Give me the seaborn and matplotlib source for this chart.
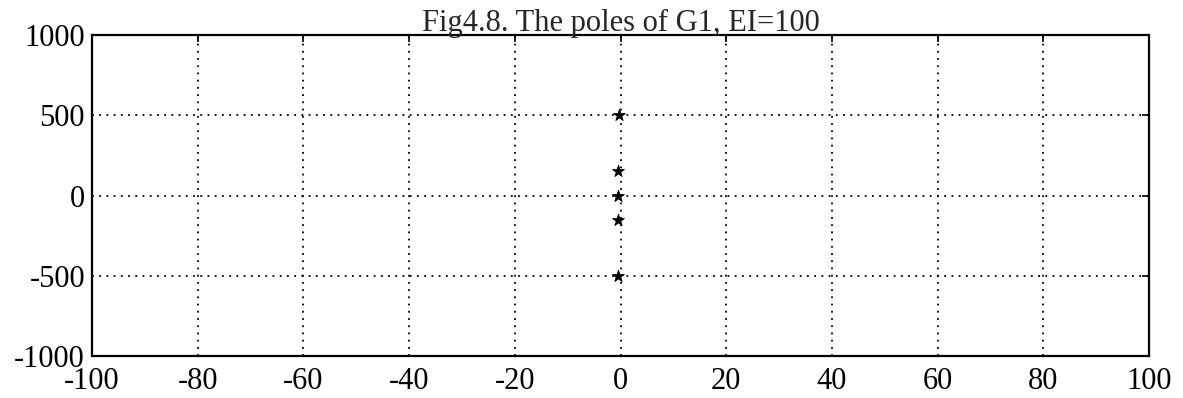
import matplotlib
matplotlib.use("Agg")
import matplotlib.pyplot as plt
import seaborn as sns
import pandas as pd

# Pole locations of G1 (real part, imaginary part), EI=100
pole_re = [-0.3, -0.4, -0.4, -0.4, -0.4]
pole_im = [500, 155, 0, -150, -500]

x_ticks = [-100, -80, -60, -40, -20, 0, 20, 40, 60, 80, 100]
y_ticks = [-1000, -500, 0, 500, 1000]

sns.set_theme(style="white")
plt.rcParams["font.family"] = ["Liberation Serif", "DejaVu Serif"]

df = pd.DataFrame({"re": pole_re, "im": pole_im})

fig = plt.figure(figsize=(11.83, 3.98), dpi=100)
ax = fig.add_axes([0.0778, 0.1055, 0.8935, 0.8065])

sns.scatterplot(data=df, x="re", y="im", marker="*", s=80, color="black",
                edgecolor="black", linewidth=0.6, ax=ax, zorder=3)

ax.set_xlim(-100, 100)
ax.set_ylim(-1000, 1000)
ax.set_xticks(x_ticks)
ax.set_yticks(y_ticks)
ax.set_xticklabels([str(v) for v in x_ticks], fontsize=22)
ax.set_yticklabels([str(v) for v in y_ticks], fontsize=22)
ax.set_xlabel("")
ax.set_ylabel("")
ax.grid(True, linestyle=(0, (1, 3)), color="black", linewidth=1.3)
ax.tick_params(direction="in", length=5, width=1.2, top=True, right=True,
               colors="black")
ax.tick_params(axis="x", pad=8)
ax.tick_params(axis="y", pad=5)
for s in ax.spines.values():
    s.set_visible(True)
    s.set_color("black")
    s.set_linewidth(1.6)
ax.set_title("Fig4.8. The poles of G1, EI=100", fontsize=22, pad=3)

fig.savefig("out.png", dpi=100, facecolor="white")
